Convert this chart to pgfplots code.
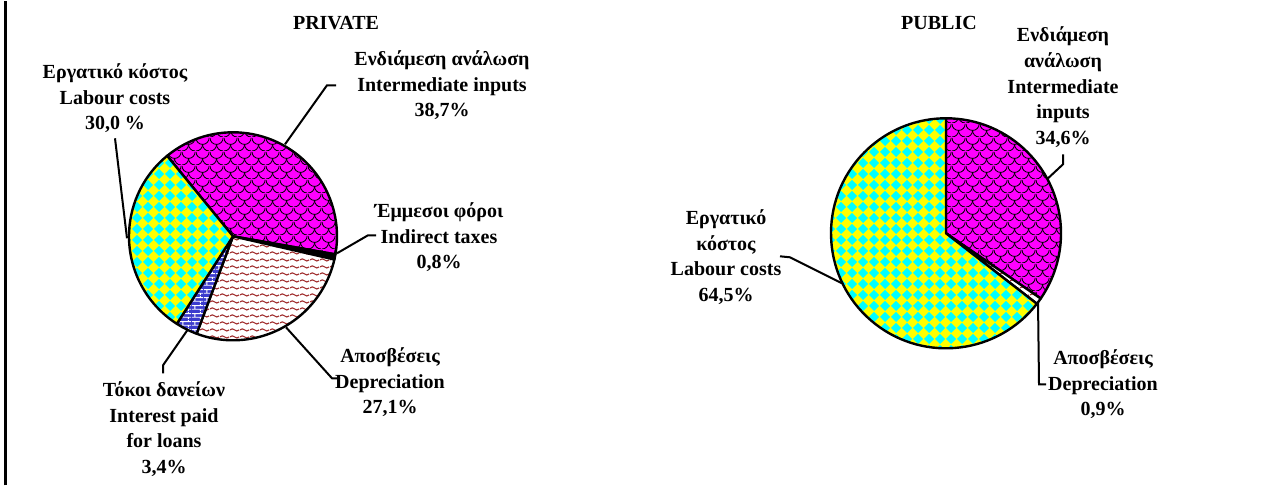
\documentclass[border=0pt]{standalone}
\usepackage{pgfplots}
\pgfplotsset{compat=1.18}
\usepackage{pgfplotstable}
\usepackage{fontspec}
\setmainfont{Liberation Serif}
\usetikzlibrary{patterns.meta}

\definecolor{depred}{RGB}{160,45,45}
\definecolor{brickblue}{RGB}{60,60,205}
\definecolor{pmag}{RGB}{255,0,255}
\definecolor{pyel}{RGB}{255,255,0}
\definecolor{pcyan}{RGB}{0,255,255}

% fill patterns of the slices
\tikzdeclarepattern{
  name=scales, type=uncolored,
  bounding box={(0,0) and (7pt,7pt)}, tile size={(7pt,7pt)},
  code={
    \draw[line width=0.45pt] (0,7pt) arc[start angle=180,end angle=360,radius=3.5pt];
    \draw[line width=0.45pt] (0,0) arc[start angle=270,end angle=360,radius=3.5pt];
    \draw[line width=0.45pt] (3.5pt,3.5pt) arc[start angle=180,end angle=270,radius=3.5pt];
  }
}
\tikzdeclarepattern{
  name=diamonds, type=uncolored,
  bounding box={(0,0) and (5.5pt,5.5pt)}, tile size={(5.5pt,5.5pt)},
  code={\fill (2.75pt,0pt) -- (5.5pt,2.75pt) -- (2.75pt,5.5pt) -- (0pt,2.75pt) -- cycle;}
}
\tikzdeclarepattern{
  name=waves, type=uncolored,
  bounding box={(0,0) and (5pt,3.5pt)}, tile size={(5pt,3.5pt)},
  code={\draw[line width=0.6pt] (0,1.75pt) sin (1.25pt,2.35pt) cos (2.5pt,1.75pt) sin (3.75pt,1.15pt) cos (5pt,1.75pt);}
}
\tikzdeclarepattern{
  name=bricks, type=uncolored,
  bounding box={(0,0) and (6pt,4pt)}, tile size={(6pt,4pt)},
  code={\draw[line width=0.5pt] (0,1pt) -- (6pt,1pt) (0,3pt) -- (6pt,3pt)
        (1.5pt,1pt) -- (1.5pt,3pt) (4.5pt,3pt) -- (4.5pt,4pt) (4.5pt,0pt) -- (4.5pt,1pt);}
}

\tikzset{
  slice/.style={draw=black, line width=1.2pt, line join=round},
  sInter/.style={slice, preaction={fill=pmag}, pattern=scales, pattern color=black},
  sIndir/.style={slice, fill=black},
  sDep/.style={slice, preaction={fill=white}, pattern=waves, pattern color=depred},
  sInt/.style={slice, preaction={fill=brickblue}, pattern=bricks, pattern color=white},
  sLab/.style={slice, preaction={fill=pyel}, pattern=diamonds, pattern color=pcyan},
  lbl/.style={font=\fontsize{10}{12.8}\selectfont\bfseries, align=center, inner sep=0pt},
  lead/.style={draw=black, line width=1pt},
}

% shares in %, clockwise
\pgfplotstableread{
share style
38.7 sInter
0.8  sIndir
27.1 sDep
3.4  sInt
30.0 sLab
}\privtab
\pgfplotstableread{
share style
34.6 sInter
0.9  sDep
64.5 sLab
}\pubtab

% #1 table, #2 cx, #3 cy, #4 radius (axis units), #5 start angle
\newcommand\drawpie[5]{%
  \pgfplotstablegetrowsof{#1}%
  \pgfmathtruncatemacro\lastrow{\pgfplotsretval-1}%
  \pgfmathsetmacro\curang{#5}%
  \pgfmathsetmacro\radpt{#4/2}%
  \pgfplotsforeachungrouped \i in {0,...,\lastrow}{%
    \pgfplotstablegetelem{\i}{share}\of#1\let\sliceval=\pgfplotsretval
    \pgfplotstablegetelem{\i}{style}\of#1\let\slicestyle=\pgfplotsretval
    \pgfmathsetmacro\nextang{\curang-3.6*\sliceval}%
    \edef\doslice{\noexpand\draw[\slicestyle] (axis cs:#2,#3) --
      (axis cs:{#2+#4*cos(\curang)},{#3+#4*sin(\curang)})
      arc[start angle=\curang, end angle=\nextang, radius=\radpt pt] -- cycle;}%
    \doslice
    \global\let\curang=\nextang
  }%
}

\begin{document}
\begin{tikzpicture}
\begin{axis}[
  width=631pt, height=242pt, scale only axis,
  xmin=0, xmax=1262, ymin=0, ymax=484,
  hide axis, clip=false,
]
\path (axis cs:0,0) rectangle (axis cs:1262,484);
\draw[line width=1.3pt] (axis cs:5.3,0) -- (axis cs:5.3,484);

% PRIVATE
\drawpie{\privtab}{233}{249}{104}{129.3}
\node[lbl] at (axis cs:336,462) {PRIVATE};
\node[lbl] at (axis cs:115,387) {Εργατικό κόστος\\Labour costs\\30,0 \%};
\node[lbl] at (axis cs:442,400) {Ενδιάμεση ανάλωση\\Intermediate inputs\\38,7\%};
\node[lbl] at (axis cs:439,248) {Έμμεσοι φόροι\\Indirect taxes\\0,8\%};
\node[lbl] at (axis cs:390,103) {Αποσβέσεις\\Depreciation\\27,1\%};
\node[lbl] at (axis cs:164,56) {Τόκοι δανείων\\Interest paid\\for loans\\3,4\%};
\draw[lead] (axis cs:115,347) -- (axis cs:127,247);
\draw[lead] (axis cs:336,400) -- (axis cs:327,400) -- (axis cs:285,341);
\draw[lead] (axis cs:376,250) -- (axis cs:368,250) -- (axis cs:337,232);
\draw[lead] (axis cs:286,158) -- (axis cs:332,107) -- (axis cs:340,107);
\draw[lead] (axis cs:163,112) -- (axis cs:163,120) -- (axis cs:188,156);

% PUBLIC
\drawpie{\pubtab}{946}{252}{115}{90}
\node[lbl] at (axis cs:939,462) {PUBLIC};
\node[lbl] at (axis cs:1063,398) {Ενδιάμεση\\ανάλωση\\Intermediate\\inputs\\34,6\%};
\node[lbl] at (axis cs:726,228) {Εργατικό\\κόστος\\Labour costs\\64,5\%};
\node[lbl] at (axis cs:1103,101) {Αποσβέσεις\\Depreciation\\0,9\%};
\draw[lead] (axis cs:1063,331) -- (axis cs:1063,321) -- (axis cs:1048,307);
\draw[lead] (axis cs:780,229) -- (axis cs:790,228) -- (axis cs:842,202);
\draw[lead] (axis cs:1038,184) -- (axis cs:1039,101) -- (axis cs:1046,101);
\end{axis}
\end{tikzpicture}
\end{document}
